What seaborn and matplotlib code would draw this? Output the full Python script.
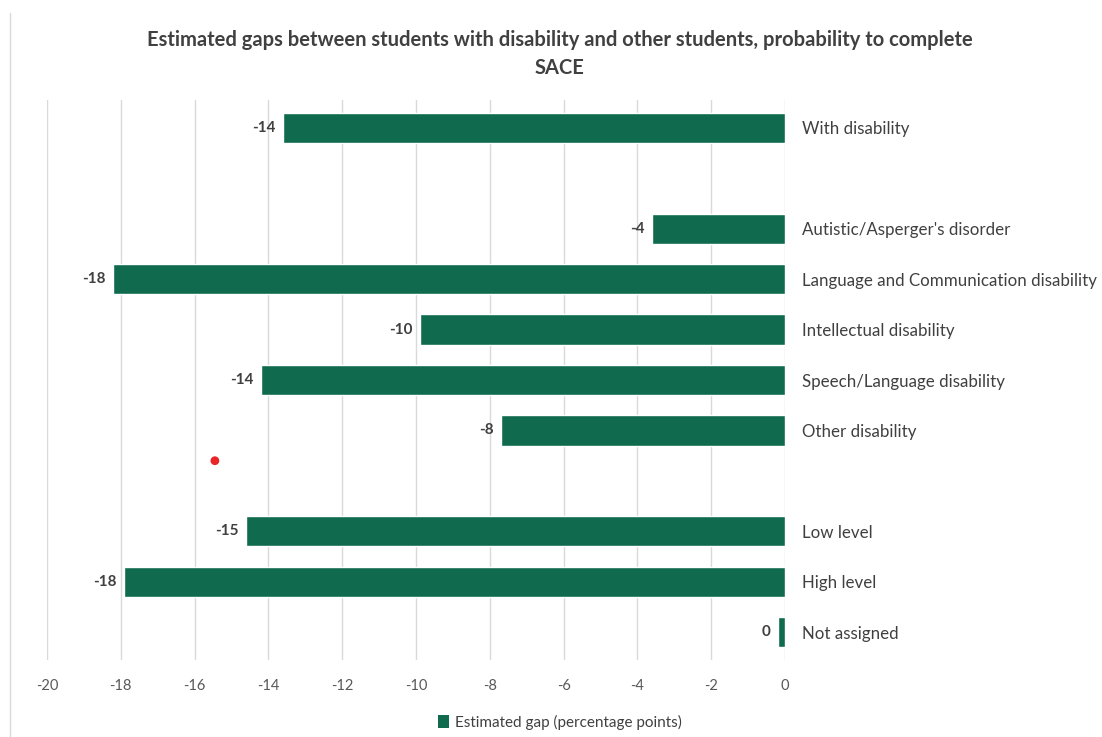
import matplotlib
matplotlib.use("Agg")
import matplotlib.pyplot as plt
import seaborn as sns
import pandas as pd
from matplotlib.lines import Line2D
from matplotlib.patches import Patch

categories = ["With disability", "Autistic/Asperger's disorder",
              "Language and Communication disability", "Intellectual disability",
              "Speech/Language disability", "Other disability",
              "Low level", "High level", "Not assigned"]
values = [-13.6, -3.6, -18.2, -9.9, -14.2, -7.7, -14.6, -17.9, -0.2]
row_order = ["With disability", " ", "Autistic/Asperger's disorder",
             "Language and Communication disability", "Intellectual disability",
             "Speech/Language disability", "Other disability", "  ",
             "Low level", "High level", "Not assigned"]
x_ticks = [-20, -18, -16, -14, -12, -10, -8, -6, -4, -2, 0]
stray_point_x = [-15.45]
stray_point_y = [6.6]

green = "#0f6a4e"
sns.set_theme(style="white")
plt.rcParams['font.family'] = ['Lato', 'DejaVu Sans']

fig = plt.figure(figsize=(11.02, 7.37), dpi=100)
ax = fig.add_axes([47/1102, 1-660/737, (785-47)/1102, (660-100)/737])

df = pd.DataFrame({"cat": categories, "val": values})
sns.barplot(data=df, x="val", y="cat", order=row_order, orient="h",
            color=green, width=0.6, saturation=1, ax=ax, zorder=3)

ax.set_xlim(-20, 0)
ax.set_ylim(10.55, -0.55)
ax.set_xticks(x_ticks)
ax.set_xticklabels([str(t) for t in x_ticks], color="#595959", fontsize=10.5)
ax.tick_params(axis="x", length=0, pad=14)
ax.xaxis.grid(True, color="#d9d9d9", linewidth=1, zorder=0)
ax.set_axisbelow(True)
for s in ax.spines.values():
    s.set_visible(False)

ax.yaxis.tick_right()
ax.set_yticks(range(len(row_order)))
ax.set_yticklabels(row_order, color="#404040", fontsize=12.2)
ax.tick_params(axis="y", length=0, pad=12)
ax.set_xlabel("")
ax.set_ylabel("")

for i, c in enumerate(row_order):
    if c in categories:
        v = values[categories.index(c)]
        ax.text(v - 0.2, i, f"{int(round(v))}", ha="right", va="center",
                fontsize=11, fontweight="bold", color="#404040")

sns.scatterplot(x=stray_point_x, y=stray_point_y, color="#e8262a", s=40,
                edgecolor="none", ax=ax, zorder=4, legend=False)

fig.text(0.508, 1-54/737, "Estimated gaps between students with disability and other students, probability to complete\nSACE",
         ha="center", va="center", fontsize=14.5, fontweight="bold", color="#404040",
         linespacing=1.45)

fig.legend(handles=[Patch(facecolor=green, edgecolor="none")],
           labels=["Estimated gap (percentage points)"],
           loc="center", bbox_to_anchor=(0.508, 1-722/737), frameon=False,
           fontsize=11, handlelength=0.7, handleheight=0.9, handletextpad=0.4,
           labelcolor="#404040")

fig.add_artist(Line2D([10/1102, 10/1102], [0, 1-13/737], color="#d9d9d9",
                      linewidth=1, transform=fig.transFigure))

fig.savefig("out.png", dpi=100)
